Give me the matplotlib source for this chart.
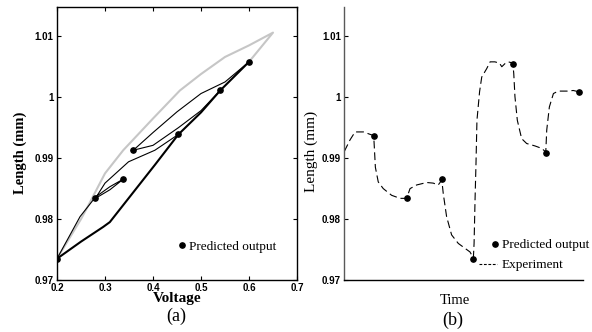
import matplotlib
matplotlib.use("Agg")
import matplotlib.pyplot as plt
from matplotlib.lines import Line2D
from matplotlib.legend_handler import HandlerLine2D

# (a) hysteresis: voltage vs length
gray_v = [0.20, 0.25, 0.265, 0.30, 0.338, 0.40, 0.456, 0.50, 0.55, 0.60, 0.65, 0.60]
gray_L = [0.9735, 0.9800, 0.9822, 0.9875, 0.9913, 0.9965, 1.0011, 1.0038, 1.0066, 1.0085, 1.0106, 1.0058]

minor_v = [0.453, 0.404, 0.349, 0.300, 0.280, 0.310, 0.339, 0.310, 0.280, 0.248, 0.200]
minor_L = [0.9939, 0.9913, 0.9894, 0.9859, 0.9834, 0.9848, 0.9866, 0.9853, 0.9836, 0.9804, 0.9735]

rise_v = [0.20, 0.25, 0.296, 0.31, 0.35, 0.404, 0.453, 0.50, 0.54, 0.60]
rise_L = [0.9735, 0.9763, 0.9787, 0.9795, 0.9835, 0.9889, 0.9939, 0.9975, 1.0011, 1.0058]

fall_v = [0.60, 0.55, 0.50, 0.45, 0.40, 0.359]
fall_L = [1.0058, 1.0025, 1.0006, 0.9976, 0.9942, 0.9913]

back_v = [0.359, 0.40, 0.453, 0.50, 0.54]
back_L = [0.9913, 0.9921, 0.9950, 0.9978, 1.0011]

pred_v = [0.453, 0.279, 0.338, 0.200, 0.599, 0.359, 0.540]
pred_L = [0.9939, 0.9834, 0.9866, 0.9735, 1.0058, 0.9913, 1.0011]

# (b) time series
pred_t = [12.5, 26.1, 41.0, 54.0, 70.7, 84.4, 98.3]
pred_Lt = [0.9936, 0.9835, 0.9865, 0.9735, 1.0055, 0.9909, 1.0008]

exp_t = [0.0, 2.4, 4.5, 8.0, 10.8, 12.3, 12.6, 13.0, 14.2, 16.3, 19.8, 23.3, 26.1,
         27.5, 30.3, 34.5, 37.2, 39.3, 40.8, 41.4, 42.8, 44.9, 47.7, 50.5, 52.6, 54.0,
         54.3, 54.7, 55.1, 55.5, 56.6, 57.5, 59.6, 61.0, 63.0, 64.9, 65.9, 67.2, 68.6,
         70.5, 70.9, 71.4, 72.4, 74.2, 76.3, 79.8, 82.6, 84.3, 84.7, 85.8, 87.5, 89.5,
         93.3, 95.8, 98.0]
exp_L = [0.9911, 0.9930, 0.9943, 0.9943, 0.9939, 0.9937, 0.9915, 0.9885, 0.9861, 0.9850,
         0.9839, 0.9834, 0.9834, 0.9850, 0.9856, 0.9860, 0.9859, 0.9856, 0.9864, 0.9842,
         0.9804, 0.9774, 0.9760, 0.9752, 0.9746, 0.9736, 0.9760, 0.9831, 0.9891, 0.9962,
         1.0009, 1.0033, 1.0047, 1.0058, 1.0058, 1.0056, 1.0050, 1.0055, 1.0058, 1.0056,
         1.0039, 1.0001, 0.9962, 0.9932, 0.9924, 0.9920, 0.9916, 0.9910, 0.9946, 0.9984,
         1.0006, 1.0010, 1.0010, 1.0011, 1.0009]

yticks = [0.97, 0.98, 0.99, 1.0, 1.01]
ytick_labels = ["0.97", "0.98", "0.99", "1", "1.01"]
xticks = [0.2, 0.3, 0.4, 0.5, 0.6, 0.7]
xtick_labels = ["0.2", "0.3", "0.4", "0.5", "0.6", "0.7"]

SERIF = "Liberation Serif"
SANS = "Liberation Sans"


class RightDot(HandlerLine2D):
    # single marker at the right end of the handle, next to the text
    def get_xdata(self, legend, xdescent, ydescent, width, height, fontsize):
        x = [-xdescent + width - 0.15 * fontsize]
        return x, x


fig = plt.figure(figsize=(5.92, 3.32), dpi=100)
ax1 = fig.add_axes([0.0963, 0.1566, 0.4054, 0.8223])
ax2 = fig.add_axes([0.5816, 0.1566, 0.4037, 0.8223])

# ---- (a)
ax1.plot(gray_v, gray_L, color="#c6c6c6", lw=1.5, zorder=1)
ax1.plot(minor_v, minor_L, color="black", lw=0.8, zorder=2)
ax1.plot(rise_v, rise_L, color="black", lw=1.5, zorder=2)
ax1.plot(fall_v, fall_L, color="black", lw=0.8, zorder=2)
ax1.plot(back_v, back_L, color="black", lw=0.8, zorder=2)
dots1, = ax1.plot(pred_v, pred_L, "o", color="black", ms=3.8, ls="none", zorder=3,
                  label="Predicted output")

ax1.set_xlim(0.2, 0.7)
ax1.set_ylim(0.97, 1.0148)
ax1.set_xticks(xticks)
ax1.set_xticklabels(xtick_labels)
ax1.set_yticks(yticks)
ax1.set_yticklabels(ytick_labels)
ax1.tick_params(direction="in", length=3, width=0.8, top=True, right=True, pad=2.5)
for lab in ax1.get_xticklabels() + ax1.get_yticklabels():
    lab.set_fontfamily(SANS)
    lab.set_fontweight("bold")
    lab.set_fontsize(7)
for sp in ax1.spines.values():
    sp.set_linewidth(1.0)

ax1.set_xlabel("Voltage", family=SERIF, weight="bold", fontsize=11)
ax1.xaxis.set_label_coords(0.5, -0.045)
ax1.set_ylabel("Length (mm)", family=SERIF, weight="bold", fontsize=10.5)
ax1.yaxis.set_label_coords(-0.127, 0.467)

ax1.legend(handles=[dots1], loc="center left", bbox_to_anchor=(0.509, 0.122),
           frameon=False, borderpad=0, borderaxespad=0, handlelength=0.4,
           handletextpad=0.35, numpoints=1, prop={"family": SERIF, "size": 9.5})

# ---- (b)
ax2.plot(exp_t, exp_L, color="black", lw=0.8, dashes=(7, 3.5), zorder=2)
dots2, = ax2.plot(pred_t, pred_Lt, "o", color="black", ms=3.8, ls="none", zorder=3,
                  label="Predicted output")

ax2.set_xlim(0, 100)
ax2.set_ylim(0.97, 1.0148)
ax2.set_xticks([])
ax2.set_yticks(yticks)
ax2.set_yticklabels(ytick_labels)
ax2.tick_params(direction="in", length=3, width=0.8, pad=2.5)
for lab in ax2.get_yticklabels():
    lab.set_fontfamily(SANS)
    lab.set_fontweight("bold")
    lab.set_fontsize(7)
ax2.spines["top"].set_visible(False)
ax2.spines["right"].set_visible(False)
ax2.spines["left"].set_color("0.35")
ax2.spines["left"].set_linewidth(1.0)
ax2.spines["bottom"].set_linewidth(1.0)

ax2.set_xlabel("Time", family=SERIF, fontsize=10.5)
ax2.xaxis.set_label_coords(0.463, -0.051)
ax2.set_ylabel("Length (mm)", family=SERIF, fontsize=11)
ax2.yaxis.set_label_coords(-0.110, 0.471)

exp_handle = Line2D([], [], color="black", lw=0.8, dashes=(2.5, 1.5))
ax2.legend(handles=[dots2, exp_handle], labels=["Predicted output", "Experiment"],
           loc="upper left", bbox_to_anchor=(0.562, 0.150), frameon=False,
           borderpad=0, borderaxespad=0, handlelength=1.39, handletextpad=0.36,
           labelspacing=0.6, numpoints=1, prop={"family": SERIF, "size": 9.5},
           handler_map={dots2: RightDot(numpoints=2)})

fig.text(176 / 592, 1 - 316 / 332, "(a)", family=SERIF, fontsize=13, ha="center", va="center")
fig.text(453 / 592, 1 - 320 / 332, "(b)", family=SERIF, fontsize=13, ha="center", va="center")

fig.savefig("out.png", dpi=100)
